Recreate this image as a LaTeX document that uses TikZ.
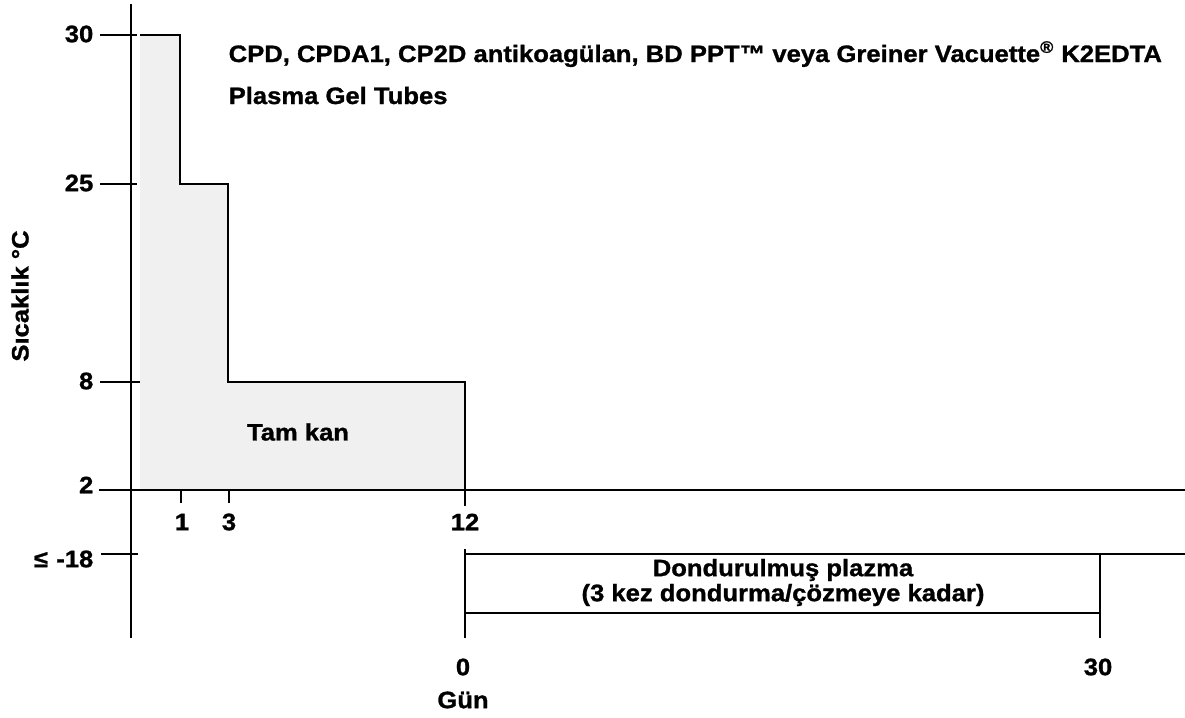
\documentclass[tikz,border=0pt]{standalone}
\usepackage{fontspec}
\setmainfont[FakeStretch=1.08, BoldFeatures={FakeBold=1.2}]{Liberation Sans}
\definecolor{bloodgray}{HTML}{F0F0F0}
\begin{document}
\begin{tikzpicture}[
            x = 0.02cm, % one pixel of the reference
            y = -0.02cm, % y runs downward
            line width = 0.8pt, % line style
            lbl/.style = {font=\bfseries\fontsize{13.5}{16}\selectfont, inner sep=0pt},
        ]
        \useasboundingbox (0,0) rectangle (1185,717);
        % whole blood area
        \fill[bloodgray] (140,35) -| (180,184) -| (228,382) -| (465,490) -- (140,490) -- cycle;
        \draw (140,35) -| (180,184) -| (228,382) -| (465,506);
        % axes and ticks
        \draw (131,4) -- (131,638);
        \draw (100,35) -- (137,35);
        \draw (100,184) -- (137,184);
        \draw (100,382) -- (140,382);
        \draw[line width=1pt] (99,490) -- (1185,490);
        \draw (101,554) -- (138,554);
        \draw (181,490) -- (181,503);
        \draw (229,490) -- (229,503);
        % frozen plasma
        \draw (465,549) -- (465,638);
        \draw (465,554) -- (1100,554);
        \draw (465,613) -- (1100,613);
        \draw (1100,554) -- (1100,638);
        \draw[line width=1.2pt] (1071,554) -- (1185,554);
        % labels
        \node[lbl, anchor=east] (t30) at (94,34){30};
        \node[lbl, anchor=east] (t25) at (94,183){25};
        \node[lbl, anchor=east] (t8) at (94,381){8};
        \node[lbl, anchor=east] (t2) at (94,485){2};
        \node[lbl, anchor=east] (tm18) at (94,559){≤\hspace{0.35em}-18};
        \node[lbl] (d1) at (182,522){1};
        \node[lbl] (d3) at (229,522){3};
        \node[lbl] (d12) at (465,522){12};
        \node[lbl] (d0) at (463,667){0};
        \node[lbl] (d30) at (1098,667){30};
        \node[lbl, rotate=90] (ylab) at (20,296){Sıcaklık °C};
        \node[lbl] (xlab) at (463,700){Gün};
        \node[lbl, anchor=base west] (title1) at (228,62){CPD, CPDA1, CP2D antikoagülan, BD PPT™ veya Greiner Vacuette\textsuperscript{®} K2EDTA};
        \node[lbl, anchor=base west] (title2) at (228,104){Plasma Gel Tubes};
        \node[lbl] (blood) at (298,432){Tam kan};
        \node[lbl] (plasma) at (783,570){Dondurulmuş plazma};
        \node[lbl] (cycles) at (783,595){(3 kez dondurma/çözmeye kadar)};
        \end{tikzpicture}
\end{document}
